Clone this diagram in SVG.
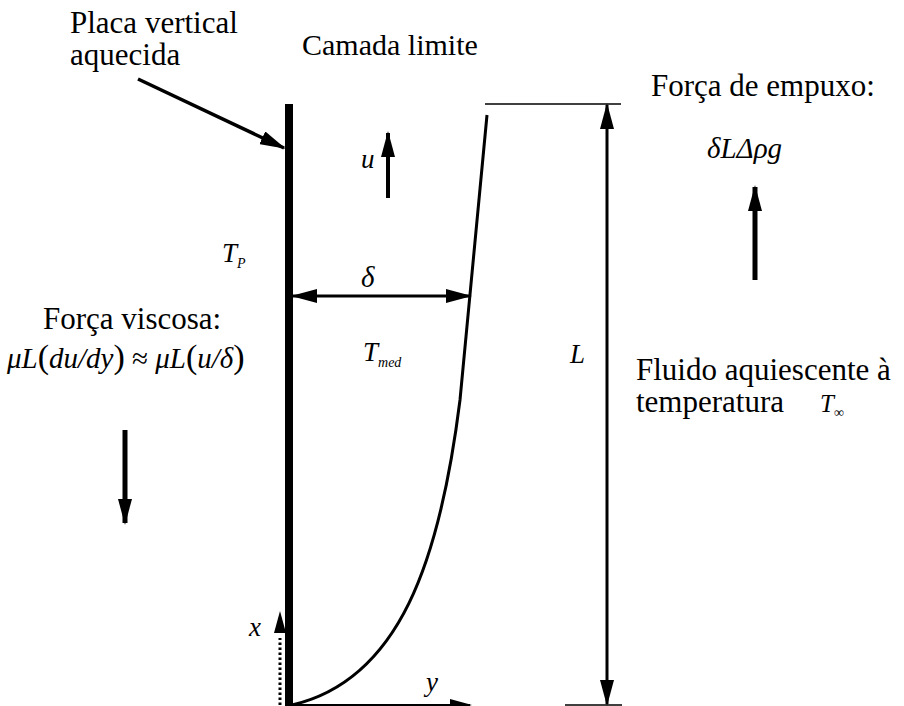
<svg xmlns="http://www.w3.org/2000/svg" width="904" height="706" viewBox="0 0 904 706">
<defs>
<marker id="ah" markerUnits="userSpaceOnUse" markerWidth="26" markerHeight="14" refX="24" refY="7" orient="auto-start-reverse">
<path d="M0,0 L26,7 L0,14 z" fill="#000"/>
</marker>
<marker id="ahs" markerUnits="userSpaceOnUse" markerWidth="22" markerHeight="12" refX="20" refY="6" orient="auto-start-reverse">
<path d="M0,0 L22,6 L0,12 z" fill="#000"/>
</marker>
</defs>
<text x="70" y="33" font-size="31" font-family="Times New Roman">Placa vertical</text>
<text x="70" y="65" font-size="31" font-family="Times New Roman">aquecida</text>
<text x="302" y="55" font-size="30" font-family="Times New Roman">Camada limite</text>
<text x="651" y="96" font-size="31" font-family="Times New Roman">Força de empuxo:</text>
<text x="707" y="158" font-size="29" font-family="Times New Roman" font-style="italic">δLΔρg</text>
<text x="361" y="168" font-size="27" font-family="Times New Roman" font-style="italic">u</text>
<text x="222" y="262" font-size="27" font-family="Times New Roman" font-style="italic">T<tspan font-size="14" dy="6">P</tspan></text>
<text x="361" y="287" font-size="29" font-family="Times New Roman" font-style="italic">δ</text>
<text x="43" y="329" font-size="31" font-family="Times New Roman">Força viscosa:</text>
<text x="7" y="368" font-size="29" font-family="Times New Roman" font-style="italic">μL<tspan font-style="normal" font-size="34">(</tspan>du/dy<tspan font-style="normal" font-size="34">)</tspan><tspan font-style="normal"> ≈ </tspan>μL<tspan font-style="normal" font-size="34">(</tspan>u/δ<tspan font-style="normal" font-size="34">)</tspan></text>
<text x="363" y="361" font-size="27" font-family="Times New Roman" font-style="italic">T<tspan font-size="14" dy="6">med</tspan></text>
<text x="570" y="363" font-size="27" font-family="Times New Roman" font-style="italic">L</text>
<text x="636" y="380" font-size="31" font-family="Times New Roman">Fluido aquiescente à</text>
<text x="636" y="412" font-size="31" font-family="Times New Roman">temperatura</text>
<text x="820" y="412" font-size="25" font-family="Times New Roman" font-style="italic">T<tspan font-size="14" dy="5" font-style="normal">∞</tspan></text>
<text x="249" y="636" font-size="27" font-family="Times New Roman" font-style="italic">x</text>
<text x="426" y="691" font-size="27" font-family="Times New Roman" font-style="italic">y</text>
<g id="plate">
<rect x="285" y="104" width="8" height="602" fill="#000"/>
</g>
<g id="connectors" stroke="#000" fill="none">
<line x1="138" y1="79" x2="284" y2="148" stroke-width="3.5" marker-end="url(#ah)"/>
<line x1="388" y1="198" x2="388" y2="133" stroke-width="4" marker-end="url(#ah)"/>
<line x1="293" y1="296" x2="470" y2="296" stroke-width="3" marker-start="url(#ah)" marker-end="url(#ah)"/>
<line x1="607" y1="105" x2="607" y2="704" stroke-width="3" marker-start="url(#ah)" marker-end="url(#ah)"/>
<line x1="485" y1="104" x2="621" y2="104" stroke-width="1.5"/>
<line x1="565" y1="705" x2="622" y2="705" stroke-width="1.5"/>
<line x1="293" y1="705" x2="470" y2="705" stroke-width="2" marker-end="url(#ahs)"/>
<line x1="280" y1="705" x2="280" y2="638" stroke-width="3" stroke-dasharray="2.5,2.5"/>
<line x1="280" y1="640" x2="280" y2="613" stroke-width="0" marker-end="url(#ahs)"/>
<line x1="125" y1="430" x2="125" y2="523" stroke-width="5" marker-end="url(#ah)"/>
<line x1="755" y1="280" x2="755" y2="187" stroke-width="5" marker-end="url(#ah)"/>
<path d="M292,705 C400,680 440,560 460,400 L487,115" stroke-width="3"/>
</g>
</svg>
